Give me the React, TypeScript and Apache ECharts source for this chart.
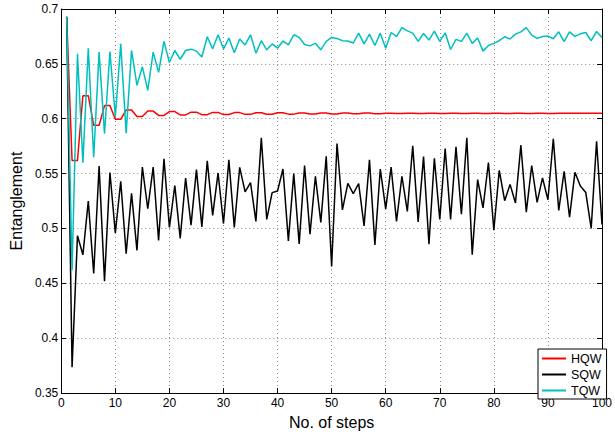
import React, { useEffect, useRef } from "react";
import * as echarts from "echarts";

const steps: number[] = Array.from({ length: 100 }, (_, i) => i + 1);

const hqw: number[] = [
  0.693, 0.562, 0.562, 0.621, 0.621, 0.594, 0.594, 0.612, 0.612, 0.5995,
  0.5995, 0.608, 0.608, 0.602, 0.602, 0.607, 0.607, 0.603, 0.603, 0.6065,
  0.6065, 0.6035, 0.6035, 0.606, 0.606, 0.6037, 0.6037, 0.6058, 0.6058, 0.6038,
  0.6038, 0.6056, 0.6056, 0.604, 0.604, 0.6055, 0.6055, 0.6041, 0.6041, 0.6054,
  0.6054, 0.6042, 0.6042, 0.6053, 0.6053, 0.6043, 0.6043, 0.6052, 0.6052, 0.6044,
  0.6044, 0.6052, 0.6052, 0.6045, 0.6045, 0.6052, 0.6052, 0.6046, 0.6046, 0.6051,
  0.6051, 0.6047, 0.6047, 0.6051, 0.6051, 0.6047, 0.6047, 0.6051, 0.6051, 0.6047,
  0.6047, 0.6051, 0.6051, 0.6048, 0.6048, 0.605, 0.605, 0.6048, 0.6048, 0.605,
  0.605, 0.6048, 0.6048, 0.605, 0.605, 0.6048, 0.6048, 0.605, 0.605, 0.6048,
  0.6048, 0.605, 0.605, 0.6049, 0.6049, 0.605, 0.605, 0.6049, 0.6049, 0.605,
];

const sqw: number[] = [
  0.693, 0.3735, 0.4935, 0.476, 0.525, 0.459, 0.557, 0.452, 0.551, 0.496,
  0.543, 0.477, 0.532, 0.48, 0.556, 0.518, 0.556, 0.489, 0.5636, 0.501,
  0.539, 0.491, 0.546, 0.503, 0.5536, 0.5015, 0.5616, 0.5119, 0.5506, 0.5045,
  0.5625, 0.5009, 0.5557, 0.5333, 0.5417, 0.5065, 0.5827, 0.5083, 0.5327, 0.5342,
  0.5542, 0.4887, 0.55, 0.486, 0.5574, 0.4949, 0.5476, 0.5056, 0.5658, 0.4655,
  0.5774, 0.517, 0.5411, 0.5318, 0.5408, 0.5024, 0.5625, 0.4851, 0.5542, 0.5179,
  0.556, 0.5065, 0.5476, 0.5155, 0.5753, 0.506, 0.5655, 0.4857, 0.564, 0.5083,
  0.5729, 0.5083, 0.5744, 0.513, 0.5827, 0.4762, 0.5446, 0.5188, 0.5601, 0.4985,
  0.553, 0.5253, 0.5402, 0.5232, 0.5759, 0.5149, 0.5574, 0.5238, 0.5461, 0.5262,
  0.5818, 0.5164, 0.5521, 0.5104, 0.5512, 0.5387, 0.5327, 0.5, 0.5795, 0.5036,
];

const tqw: number[] = [
  0.693, 0.462, 0.6592, 0.56, 0.6643, 0.5649, 0.6607, 0.5863, 0.6613, 0.6018,
  0.6682, 0.5869, 0.6622, 0.6304, 0.6473, 0.6259, 0.6607, 0.6423, 0.6705, 0.6512,
  0.6622, 0.6542, 0.6622, 0.6634, 0.6616, 0.6562, 0.6747, 0.6637, 0.6765, 0.6637,
  0.6735, 0.6601, 0.6726, 0.6673, 0.6765, 0.6598, 0.6711, 0.6628, 0.6682, 0.6643,
  0.6708, 0.6673, 0.6765, 0.6741, 0.6676, 0.6664, 0.6687, 0.6628, 0.6705, 0.6741,
  0.6732, 0.6711, 0.6708, 0.669, 0.678, 0.6682, 0.6771, 0.6667, 0.678, 0.6643,
  0.6786, 0.6748, 0.683, 0.6801, 0.678, 0.6705, 0.6777, 0.6717, 0.6798, 0.6705,
  0.6783, 0.6631, 0.6723, 0.6705, 0.678, 0.6687, 0.6735, 0.6616, 0.6667, 0.6687,
  0.6711, 0.6747, 0.6726, 0.6771, 0.6792, 0.683, 0.6762, 0.6732, 0.675, 0.6753,
  0.6729, 0.6792, 0.6702, 0.6792, 0.675, 0.6774, 0.6786, 0.6711, 0.6795, 0.6741,
];

const seriesNames = ["HQW", "SQW", "TQW"];
const seriesColors = ["#ff0000", "#000000", "#00bfbf"];
const seriesValues = [hqw, sqw, tqw];

const FONT = "'Liberation Sans', Arial, Helvetica, sans-serif";

export default function App() {
  const ref = useRef<HTMLDivElement>(null);

  useEffect(() => {
    if (!ref.current) return;
    const chart = echarts.init(ref.current, undefined, { renderer: "svg" });
    const gridLine = { show: true, lineStyle: { color: "#8c8c8c", type: [1, 3] as any, width: 1 } };
    const axisLine = { show: true, onZero: false, lineStyle: { color: "#000", width: 1 } };
    const tick = { show: true, inside: true, length: 5, lineStyle: { color: "#000", width: 1 } };
    const fmt = (v: number) => String(parseFloat(v.toFixed(2)));

    chart.setOption({
      animation: false,
      backgroundColor: "#ffffff",
      grid: { left: 54, right: 8, top: 9, bottom: 33, containLabel: false },
      legend: {
        data: seriesNames,
        orient: "vertical",
        left: 538,
        top: 349,
        backgroundColor: "#ffffff",
        borderColor: "#000",
        borderWidth: 1,
        borderRadius: 0,
        padding: [2, 5, 1, 4],
        itemGap: 1,
        itemWidth: 24,
        itemHeight: 2,
        icon: "rect",
        textStyle: { fontFamily: FONT, fontSize: 12.5, color: "#000", lineHeight: 15 },
      },
      xAxis: [
        {
          type: "value",
          min: 0,
          max: 100,
          interval: 10,
          name: "No. of steps",
          nameLocation: "middle",
          nameGap: 16,
          nameTextStyle: { fontFamily: FONT, fontSize: 16, color: "#000" },
          axisLine,
          axisTick: tick,
          splitLine: gridLine,
          axisLabel: { fontFamily: FONT, fontSize: 12, color: "#000", margin: 4 },
        },
        {
          type: "value",
          position: "top",
          min: 0,
          max: 100,
          interval: 10,
          axisLine,
          axisTick: tick,
          splitLine: { show: false },
          axisLabel: { show: false },
        },
      ],
      yAxis: [
        {
          type: "value",
          min: 0.35,
          max: 0.7,
          interval: 0.05,
          name: "Entanglement",
          nameLocation: "middle",
          nameGap: 33,
          nameTextStyle: { fontFamily: FONT, fontSize: 16, color: "#000" },
          axisLine,
          axisTick: tick,
          splitLine: gridLine,
          axisLabel: { fontFamily: FONT, fontSize: 12, color: "#000", margin: 3, formatter: fmt },
        },
        {
          type: "value",
          position: "right",
          min: 0.35,
          max: 0.7,
          interval: 0.05,
          axisLine,
          axisTick: tick,
          splitLine: { show: false },
          axisLabel: { show: false },
        },
      ],
      series: seriesNames.map((name, i) => ({
        name,
        type: "line",
        xAxisIndex: 0,
        yAxisIndex: 0,
        data: steps.map((s, j) => [s, seriesValues[i][j]]),
        symbol: "none",
        lineStyle: { color: seriesColors[i], width: 1.5 },
        itemStyle: { color: seriesColors[i] },
        z: 2 + i,
      })),
    });

    return () => chart.dispose();
  }, []);

  return (
    <div
      ref={ref}
      style={{ position: "fixed", left: 0, top: 0, width: 615, height: 435, background: "#fff" }}
    />
  );
}
